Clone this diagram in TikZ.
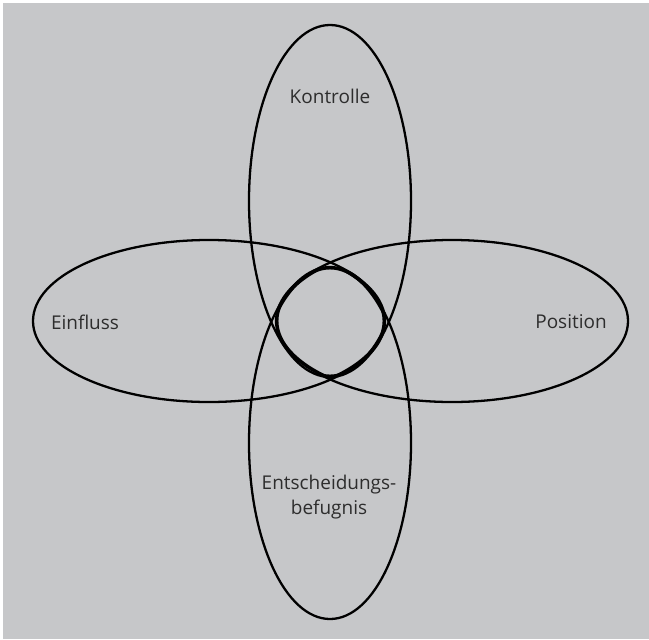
\documentclass[tikz,border=0pt]{standalone}
\usepackage{fontspec}
\setmainfont{Open Sans}
\definecolor{hintergrund}{RGB}{198,199,201}
\definecolor{schrift}{RGB}{45,45,45}
\begin{document}
\begin{tikzpicture}[x=0.02cm,y=-0.02cm, line width=1.3pt, font=\fontsize{10.8}{14.5}\selectfont, text=schrift]
	\def\la{176} \def\lb{81} % Halbachsen
	\useasboundingbox (0,0) rectangle (649,639);
	\fill[hintergrund] (3,3) rectangle (649,639);
	% vier Ellipsen
	\foreach \cx/\cy/\rx/\ry in {209/321/\la/\lb, 452/321/\la/\lb, 330/201/\lb/\la, 330/443/\lb/\la}
		\draw (\cx,\cy) ellipse [x radius=\rx, y radius=\ry];
	% Schnittmenge fett
	\begin{scope}
		\clip (209,321) ellipse [x radius=\la, y radius=\lb];
		\clip (452,321) ellipse [x radius=\la, y radius=\lb];
		\clip (330,201) ellipse [x radius=\lb, y radius=\la];
		\clip (330,443) ellipse [x radius=\lb, y radius=\la];
		\foreach \cx/\cy/\rx/\ry in {209/321/\la/\lb, 452/321/\la/\lb, 330/201/\lb/\la, 330/443/\lb/\la}
			\draw[line width=2.8pt] (\cx,\cy) ellipse [x radius=\rx, y radius=\ry];
	\end{scope}
	\node (kontrolle) at (330,96) {Kontrolle};
	\node (einfluss) at (85,322) {Einfluss};
	\node (position) at (571,322) {Position};
	\node[align=center, inner sep=0pt] (befugnis) at (329,497) {Entscheidungs-\\befugnis};
\end{tikzpicture}
\end{document}
